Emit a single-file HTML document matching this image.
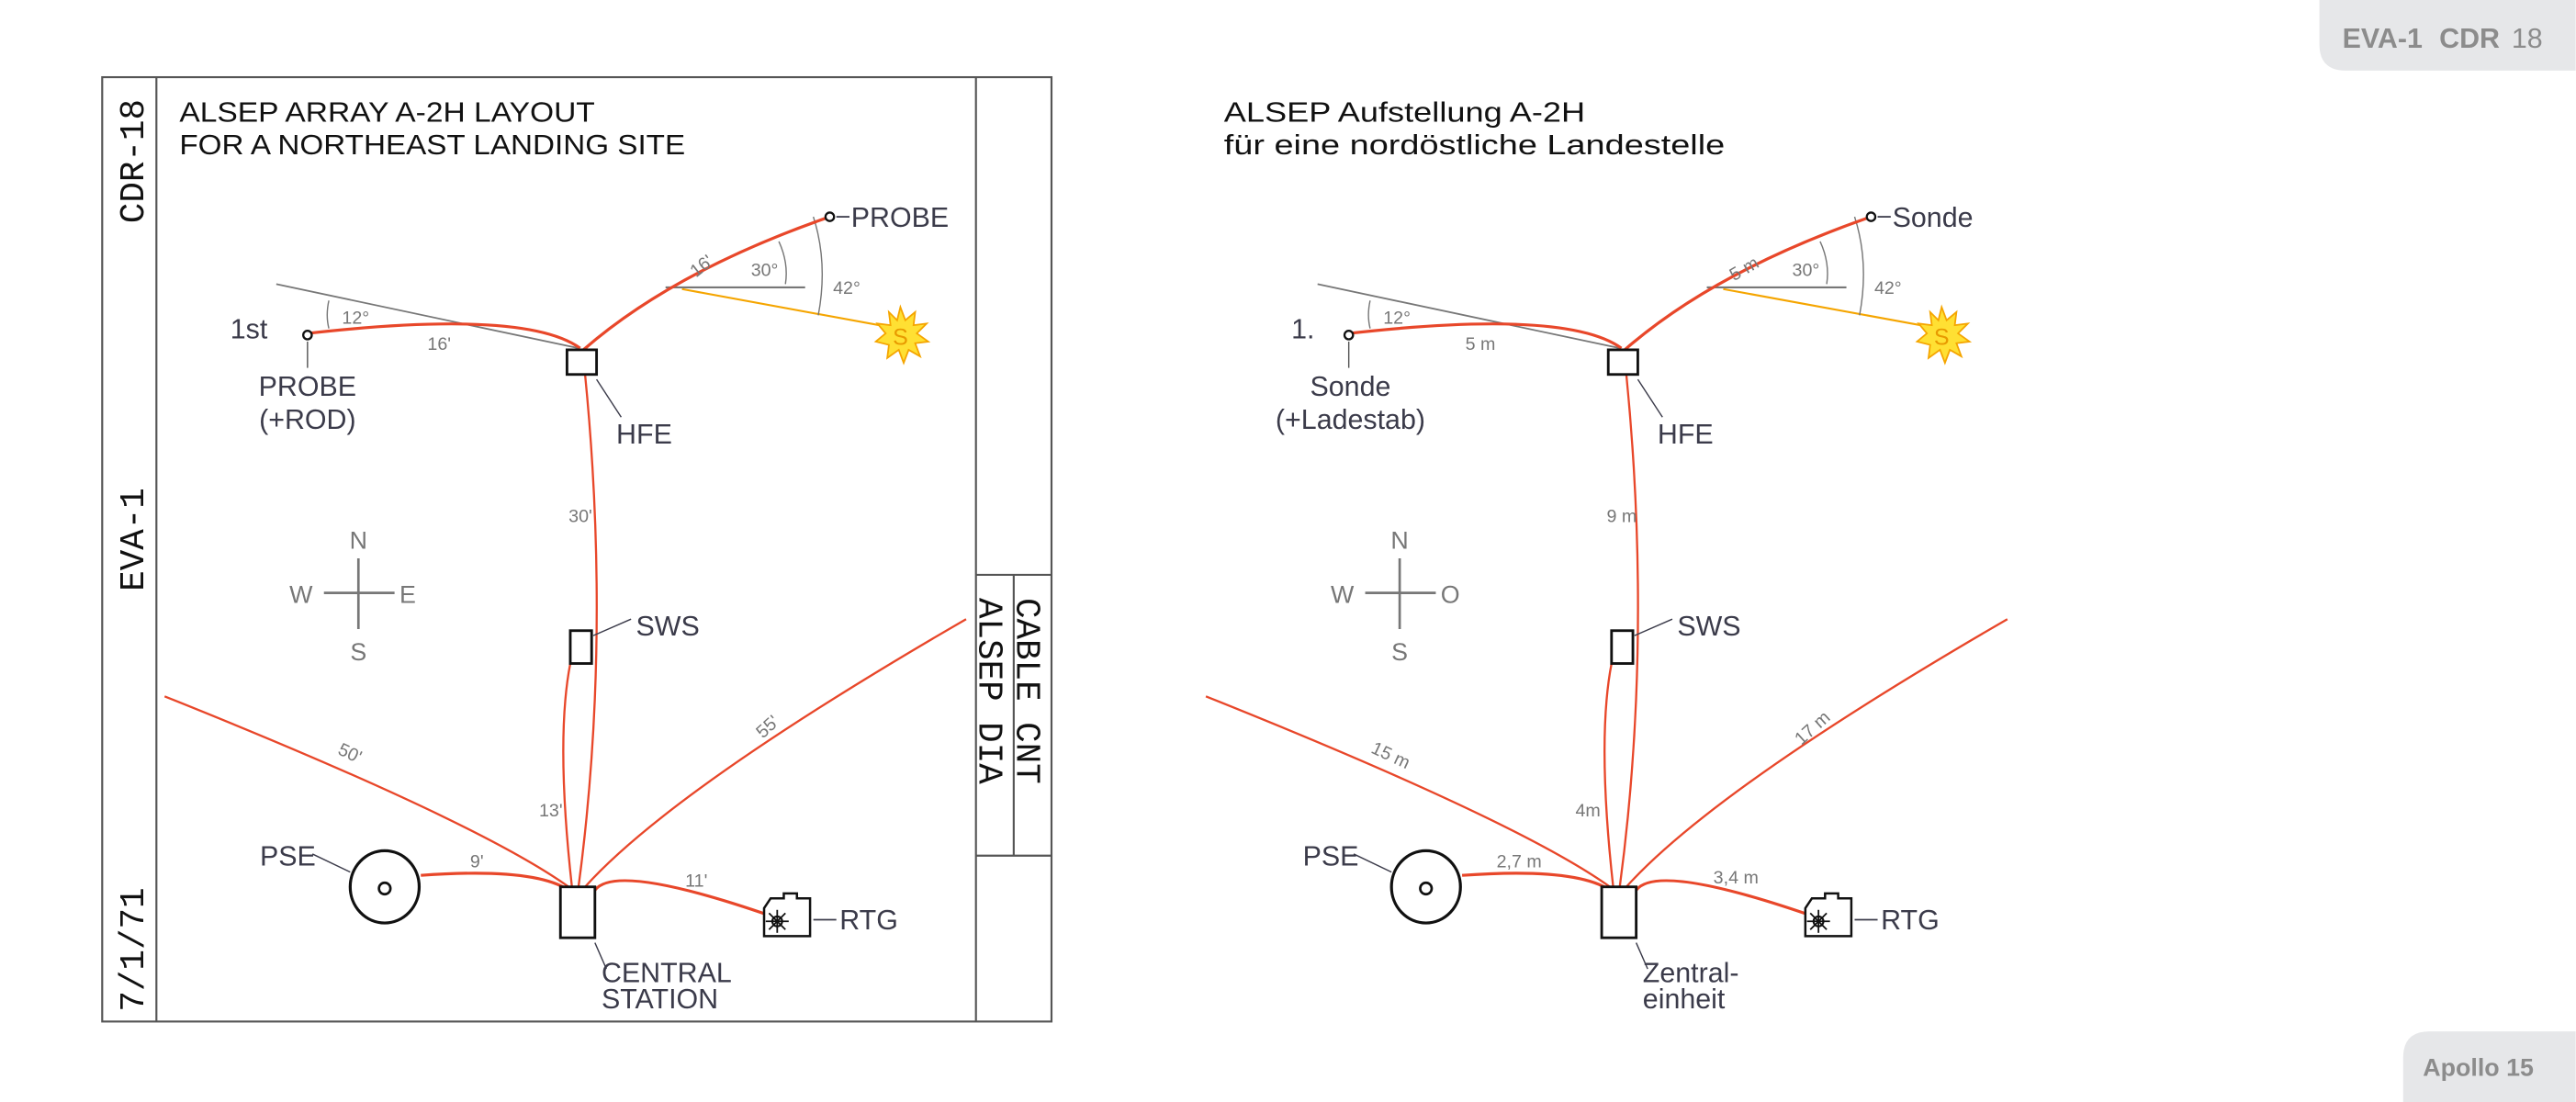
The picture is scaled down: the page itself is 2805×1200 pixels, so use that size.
<!DOCTYPE html>
<html><head><meta charset="utf-8"><style>
html,body{margin:0;padding:0;background:#fff;}
svg{display:block;}
text{font-family:"Liberation Sans",sans-serif;fill:#3b3b4a;}
.m{font-family:"Liberation Mono",monospace;fill:#111;}
.g{fill:#777;}
</style></head><body>
<svg width="2805" height="1200" viewBox="0 0 1568 671" xmlns="http://www.w3.org/2000/svg">
<!-- badges -->
<path d="M1412,0 H1568 V43 H1428 Q1412,43 1412,27 Z" fill="#e6e7e9"/>
<text x="1426" y="29" font-size="17" font-weight="bold" style="fill:#8c8c8c">EVA-1</text>
<text x="1485" y="29" font-size="17" font-weight="bold" style="fill:#8c8c8c">CDR</text>
<text x="1529" y="29" font-size="17" style="fill:#8c8c8c">18</text>
<path d="M1463,671 V644 Q1463,628 1479,628 H1568 V671 Z" fill="#e6e7e9"/>
<text x="1475" y="655" font-size="15" font-weight="bold" style="fill:#8c8c8c">Apollo 15</text>

<!-- frame -->
<g fill="none" stroke="#555" stroke-width="1.2">
<rect x="62" y="47" width="578" height="575"/>
<line x1="95" y1="47" x2="95" y2="622"/>
<line x1="594" y1="47" x2="594" y2="622"/>
<line x1="594" y1="350" x2="640" y2="350"/>
<line x1="594" y1="521" x2="640" y2="521"/>
<line x1="617" y1="350" x2="617" y2="521"/>
</g>
<text class="m" font-size="21" transform="translate(87,136) rotate(-90)">CDR-18</text>
<text class="m" font-size="21" transform="translate(87,360) rotate(-90)">EVA-1</text>
<text class="m" font-size="21" transform="translate(87,616) rotate(-90)">7/1/71</text>
<text class="m" font-size="21" transform="translate(619,364) rotate(90)">CABLE CNT</text>
<text class="m" font-size="21" transform="translate(596,364) rotate(90)">ALSEP DIA</text>

<text x="109" y="74" font-size="17" textLength="253" lengthAdjust="spacingAndGlyphs" style="fill:#111">ALSEP ARRAY A-2H LAYOUT</text>
<text x="109" y="94" font-size="17" textLength="308" lengthAdjust="spacingAndGlyphs" style="fill:#111">FOR A NORTHEAST LANDING SITE</text>
<text x="745" y="74" font-size="17" textLength="220" lengthAdjust="spacingAndGlyphs" style="fill:#111">ALSEP Aufstellung A-2H</text>
<text x="745" y="94" font-size="17" textLength="305" lengthAdjust="spacingAndGlyphs" style="fill:#111">für eine nordöstliche Landestelle</text>

<defs>
<g id="d">
 <line x1="168" y1="173" x2="352" y2="212" stroke="#777" stroke-width="1"/>
 <line x1="405" y1="175" x2="490" y2="175" stroke="#777" stroke-width="1.2"/>
 <line x1="415" y1="176" x2="535" y2="198" stroke="#f5a500" stroke-width="1.2"/>
 <path d="M474,147 Q480,160 478,173" fill="none" stroke="#777" stroke-width="0.8"/>
 <path d="M495,132 Q504,160 498,192" fill="none" stroke="#777" stroke-width="0.8"/>
 <path d="M200,183 Q198,192 200,200" fill="none" stroke="#777" stroke-width="0.8"/>
 <g fill="none" stroke="#e8472a" stroke-width="1.8">
  <path d="M187,203 Q320,188 353,212"/>
  <path d="M355,213 Q410,165 505,132"/>
  <path d="M256,533 Q325,528 346,542"/>
  <path d="M362,542 Q375,525 470,558"/>
 </g>
 <g fill="none" stroke="#e8472a" stroke-width="1.3">
  <path d="M356,228 Q372,390 352,540"/>
  <path d="M347,404 Q338,450 348,540"/>
  <path d="M100,424 Q290,500 346,540"/>
  <path d="M588,377 Q410,480 356,540"/>
 </g>
 <circle cx="187" cy="204" r="2.6" fill="#fff" stroke="#111" stroke-width="1.3"/>
 <circle cx="505" cy="132" r="2.6" fill="#fff" stroke="#111" stroke-width="1.3"/>
 <line x1="187" y1="208" x2="187" y2="224" stroke="#555" stroke-width="0.8"/>
 <line x1="509" y1="132" x2="517" y2="132" stroke="#3b3b4a" stroke-width="1"/>
 <polygon points="548,187 551,195 557,190 556,198 564,197 558,203 565,208 557,209 560,217 553,213 550,221 547,213 540,218 541,210 533,208 539,203 534,197 542,198 541,190 546,195" fill="#ffe033" stroke="#f5a500" stroke-width="1"/>
 <rect x="345" y="213" width="18" height="15" fill="#fff" stroke="#111" stroke-width="1.6"/>
 <line x1="363" y1="231" x2="378" y2="254" stroke="#3b3b4a" stroke-width="0.8"/>
 <rect x="347" y="384" width="13" height="20" fill="#fff" stroke="#111" stroke-width="1.6"/>
 <line x1="361" y1="387" x2="384" y2="377" stroke="#3b3b4a" stroke-width="0.8"/>
 <rect x="341" y="540" width="21" height="31" fill="#fff" stroke="#111" stroke-width="1.6"/>
 <line x1="362" y1="574" x2="369" y2="590" stroke="#3b3b4a" stroke-width="0.8"/>
 <ellipse cx="234" cy="540" rx="21" ry="22" fill="#fff" stroke="#111" stroke-width="1.8"/>
 <circle cx="234" cy="541" r="3.5" fill="none" stroke="#111" stroke-width="1.5"/>
 <line x1="190" y1="520" x2="213" y2="531" stroke="#3b3b4a" stroke-width="0.8"/>
 <path d="M465,553 L469,547 H477 V544 H485 V547 H493 V570 H465 Z" fill="#fff" stroke="#111" stroke-width="1.4"/>
 <circle cx="473" cy="561" r="3" fill="none" stroke="#111" stroke-width="1.2"/>
 <g stroke="#111" stroke-width="1"><line x1="473" y1="554" x2="473" y2="568"/><line x1="466" y1="561" x2="480" y2="561"/><line x1="468" y1="556" x2="478" y2="566"/><line x1="478" y1="556" x2="468" y2="566"/></g>
 <line x1="495" y1="560" x2="509" y2="560" stroke="#3b3b4a" stroke-width="1"/>
 <g stroke="#777" stroke-width="1.5"><line x1="218" y1="340" x2="218" y2="383"/><line x1="197" y1="361" x2="240" y2="361"/></g>
</g>
</defs>
<use href="#d"/>
<use href="#d" x="634"/>
<text x="548" y="210" font-size="14" text-anchor="middle" style="fill:#e89a00">S</text>
<text x="1182" y="210" font-size="14" text-anchor="middle" style="fill:#e89a00">S</text>

<g font-size="17">
<text x="140" y="206">1st</text>
<text x="187" y="241" text-anchor="middle">PROBE</text>
<text x="187" y="261" text-anchor="middle">(+ROD)</text>
<text x="518" y="138">PROBE</text>
<text x="375" y="270">HFE</text>
<text x="387" y="387">SWS</text>
<text x="158" y="527">PSE</text>
<text x="511" y="566">RTG</text>
<text x="366" y="598">CENTRAL</text>
<text x="366" y="614">STATION</text>
</g>
<g font-size="15">
<text x="218" y="334" text-anchor="middle" class="g">N</text>
<text x="218" y="402" text-anchor="middle" class="g">S</text>
<text x="176" y="367" class="g">W</text>
<text x="243" y="367" class="g">E</text>
</g>
<g font-size="11">
<text x="208" y="197" class="g">12°</text>
<text x="260" y="213" class="g">16'</text>
<text x="420" y="167" class="g" transform="rotate(-38 425 163)">16'</text>
<text x="457" y="168" class="g">30°</text>
<text x="507" y="179" class="g">42°</text>
<text x="346" y="318" class="g">30'</text>
<text x="328" y="497" class="g">13'</text>
<text x="205" y="462" class="g" transform="rotate(25 212 460)">50'</text>
<text x="460" y="447" class="g" transform="rotate(-42 466 443)">55'</text>
<text x="286" y="528" class="g">9'</text>
<text x="417" y="540" class="g">11'</text>
</g>

<g font-size="17">
<text x="786" y="206">1.</text>
<text x="822" y="241" text-anchor="middle">Sonde</text>
<text x="822" y="261" text-anchor="middle">(+Ladestab)</text>
<text x="1152" y="138">Sonde</text>
<text x="1009" y="270">HFE</text>
<text x="1021" y="387">SWS</text>
<text x="793" y="527">PSE</text>
<text x="1145" y="566">RTG</text>
<text x="1000" y="598">Zentral-</text>
<text x="1000" y="614">einheit</text>
</g>
<g font-size="15">
<text x="852" y="334" text-anchor="middle" class="g">N</text>
<text x="852" y="402" text-anchor="middle" class="g">S</text>
<text x="810" y="367" class="g">W</text>
<text x="877" y="367" class="g">O</text>
</g>
<g font-size="11">
<text x="842" y="197" class="g">12°</text>
<text x="892" y="213" class="g">5 m</text>
<text x="1052" y="168" class="g" transform="rotate(-30 1060 163)">5 m</text>
<text x="1091" y="168" class="g">30°</text>
<text x="1141" y="179" class="g">42°</text>
<text x="978" y="318" class="g">9 m</text>
<text x="959" y="497" class="g">4m</text>
<text x="834" y="462" class="g" transform="rotate(25 843 460)">15 m</text>
<text x="1090" y="449" class="g" transform="rotate(-42 1100 443)">17 m</text>
<text x="911" y="528" class="g">2,7 m</text>
<text x="1043" y="538" class="g">3,4 m</text>
</g>
</svg>
</body></html>
